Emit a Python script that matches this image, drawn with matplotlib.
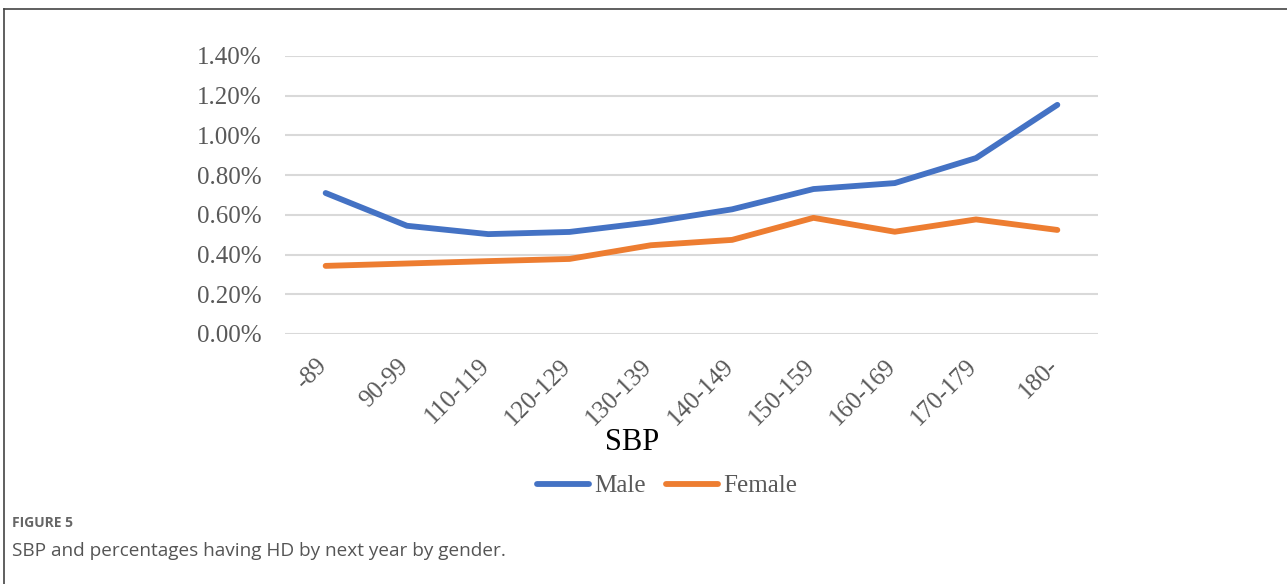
import matplotlib.pyplot as plt
import matplotlib.transforms as mtransforms
from matplotlib.lines import Line2D
from matplotlib.ticker import FuncFormatter

sbp_groups = ['-89', '90-99', '110-119', '120-129', '130-139',
              '140-149', '150-159', '160-169', '170-179', '180-']
male = [0.71, 0.545, 0.503, 0.514, 0.563, 0.628, 0.730, 0.760, 0.886, 1.154]
female = [0.343, 0.355, 0.367, 0.378, 0.447, 0.474, 0.585, 0.515, 0.577, 0.524]

W, H = 1287, 584
fig = plt.figure(figsize=(W / 100, H / 100), dpi=100)
ax = fig.add_axes([285 / W, 1 - 334 / H, (1098 - 285) / W, (334 - 56) / H])

serif = 'Liberation Serif'
grey = '#595959'

x = range(len(sbp_groups))
ax.plot(x, male, color='#4472C4', lw=4.2, solid_capstyle='round',
        solid_joinstyle='round', label='Male')
ax.plot(x, female, color='#ED7D31', lw=4.2, solid_capstyle='round',
        solid_joinstyle='round', label='Female')

ax.set_xlim(-0.5, len(sbp_groups) - 0.5)
ax.set_ylim(0, 1.4)
ax.set_yticks([0, 0.2, 0.4, 0.6, 0.8, 1.0, 1.2, 1.4])
ax.yaxis.set_major_formatter(FuncFormatter(lambda v, p: f'{v:.2f}%'))
ax.grid(axis='y', color='#d9d9d9', lw=1.5)
ax.set_axisbelow(True)
for s in ax.spines.values():
    s.set_visible(False)
ax.tick_params(axis='both', length=0, labelcolor=grey)
ax.tick_params(axis='y', pad=17)
for lab in ax.get_yticklabels():
    lab.set_fontfamily(serif)
    lab.set_fontsize(18)

ax.set_xticks(list(x))
ax.set_xticklabels(sbp_groups, rotation=45, ha='right', va='top',
                   rotation_mode='anchor', fontfamily=serif, fontsize=18)
ax.tick_params(axis='x', pad=15)
shift = mtransforms.ScaledTranslation(-10 / 100, 0, fig.dpi_scale_trans)
for lab in ax.get_xticklabels():
    lab.set_transform(lab.get_transform() + shift)

fig.text(632 / W, 1 - 443 / H, 'SBP', fontfamily=serif, fontsize=22,
         color='black', ha='center', va='center')

leg = fig.legend(loc='center', bbox_to_anchor=(667 / W, 1 - 486 / H),
                 ncol=2, frameon=False, handlelength=2.1, handletextpad=0.2,
                 columnspacing=0.8, prop={'family': serif, 'size': 18})
for t in leg.get_texts():
    t.set_color(grey)

# frame and caption
fig.add_artist(Line2D([4 / W, 4 / W], [0, 1 - 9 / H], color='#444444', lw=1.2))
fig.add_artist(Line2D([4 / W, 1], [1 - 9 / H, 1 - 9 / H], color='#444444', lw=1.2))
fig.text(12 / W, 1 - 523 / H, 'FIGURE 5', fontfamily='Open Sans',
         fontweight='bold', fontsize=10, color='#666666', va='center')
fig.text(12 / W, 1 - 551 / H, 'SBP and percentages having HD by next year by gender.',
         fontfamily='Open Sans', fontsize=13.7, color='#555555', va='center')

fig.savefig('out.png', dpi=100)
